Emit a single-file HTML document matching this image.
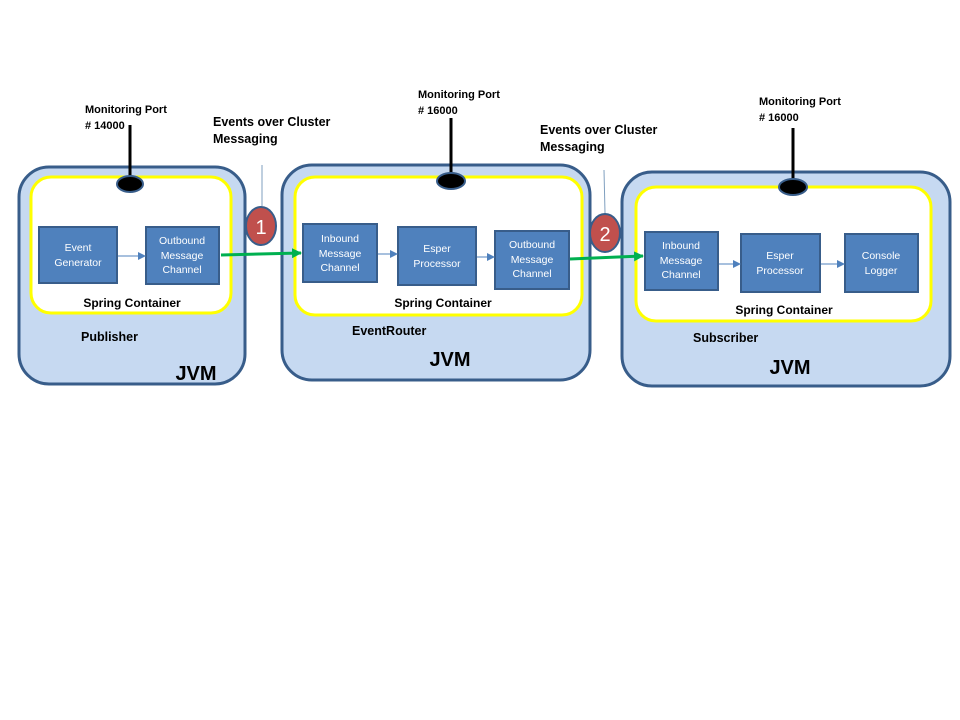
<!DOCTYPE html>
<html><head><meta charset="utf-8"><style>
html,body{margin:0;padding:0;background:#fff;}
svg{display:block;}
text{font-family:"Liberation Sans",sans-serif;}
.b{font-weight:bold;fill:#000;}
.w{fill:#fff;font-size:10.5px;text-anchor:middle;}
</style></head><body>
<svg width="960" height="720" viewBox="0 0 960 720" xmlns="http://www.w3.org/2000/svg">
<defs>
<marker id="ab" markerWidth="8" markerHeight="8" refX="7" refY="4" orient="auto" markerUnits="userSpaceOnUse"><path d="M0,0 L8,4 L0,8 z" fill="#4f81bd"/></marker>
<marker id="ag" markerWidth="10" markerHeight="10" refX="9" refY="5" orient="auto" markerUnits="userSpaceOnUse"><path d="M0,0 L10,5 L0,10 z" fill="#00b050"/></marker>
</defs>
<rect width="960" height="720" fill="#fff"/>
<!-- JVM boxes -->
<rect x="19" y="167" width="226" height="217" rx="30" fill="#c6d9f1" stroke="#385d8a" stroke-width="3"/>
<rect x="282" y="165" width="308" height="215" rx="30" fill="#c6d9f1" stroke="#385d8a" stroke-width="3"/>
<rect x="622" y="172" width="328" height="214" rx="30" fill="#c6d9f1" stroke="#385d8a" stroke-width="3"/>
<!-- spring containers -->
<rect x="31" y="177" width="200" height="136" rx="20" fill="#fff" stroke="#ffff00" stroke-width="3"/>
<rect x="295" y="177" width="287" height="138" rx="20" fill="#fff" stroke="#ffff00" stroke-width="3"/>
<rect x="636" y="187" width="295" height="134" rx="20" fill="#fff" stroke="#ffff00" stroke-width="3"/>
<!-- ports -->
<line x1="130" y1="125" x2="130" y2="178" stroke="#000" stroke-width="3"/>
<ellipse cx="130" cy="184" rx="13" ry="8" fill="#000" stroke="#385d8a" stroke-width="2"/>
<line x1="451" y1="118" x2="451" y2="175" stroke="#000" stroke-width="3"/>
<ellipse cx="451" cy="181" rx="14" ry="8" fill="#000" stroke="#385d8a" stroke-width="2"/>
<line x1="793" y1="128" x2="793" y2="180" stroke="#000" stroke-width="3"/>
<ellipse cx="793" cy="187" rx="14" ry="8" fill="#000" stroke="#385d8a" stroke-width="2"/>
<text class="b" x="85" y="113" font-size="11">Monitoring  Port</text>
<text class="b" x="85" y="129" font-size="11"># 14000</text>
<text class="b" x="418" y="98" font-size="11">Monitoring  Port</text>
<text class="b" x="418" y="114" font-size="11"># 16000</text>
<text class="b" x="759" y="105" font-size="11">Monitoring  Port</text>
<text class="b" x="759" y="121" font-size="11"># 16000</text>
<!-- callouts -->
<text class="b" x="213" y="126" font-size="12.5">Events over Cluster</text>
<text class="b" x="213" y="143" font-size="12.5">Messaging</text>
<text class="b" x="540" y="134" font-size="12.5">Events over Cluster</text>
<text class="b" x="540" y="151" font-size="12.5">Messaging</text>
<line x1="262" y1="165" x2="262" y2="206" stroke="#7f9fbf" stroke-width="1"/>
<line x1="604" y1="170" x2="605" y2="213" stroke="#7f9fbf" stroke-width="1"/>
<!-- blue boxes -->
<g fill="#4f81bd" stroke="#385d8a" stroke-width="2">
<rect x="39" y="227" width="78" height="56"/>
<rect x="146" y="227" width="73" height="57"/>
<rect x="303" y="224" width="74" height="58"/>
<rect x="398" y="227" width="78" height="58"/>
<rect x="495" y="231" width="74" height="58"/>
<rect x="645" y="232" width="73" height="58"/>
<rect x="741" y="234" width="79" height="58"/>
<rect x="845" y="234" width="73" height="58"/>
</g>
<text class="w"><tspan x="78" y="251">Event</tspan><tspan x="78" y="266">Generator</tspan></text>
<text class="w"><tspan x="182" y="244">Outbound</tspan><tspan x="182" y="259">Message</tspan><tspan x="182" y="273">Channel</tspan></text>
<text class="w"><tspan x="340" y="242">Inbound</tspan><tspan x="340" y="257">Message</tspan><tspan x="340" y="271">Channel</tspan></text>
<text class="w"><tspan x="437" y="252">Esper</tspan><tspan x="437" y="267">Processor</tspan></text>
<text class="w"><tspan x="532" y="248">Outbound</tspan><tspan x="532" y="263">Message</tspan><tspan x="532" y="277">Channel</tspan></text>
<text class="w"><tspan x="681" y="249">Inbound</tspan><tspan x="681" y="264">Message</tspan><tspan x="681" y="278">Channel</tspan></text>
<text class="w"><tspan x="780" y="259">Esper</tspan><tspan x="780" y="274">Processor</tspan></text>
<text class="w"><tspan x="881" y="259">Console</tspan><tspan x="881" y="274">Logger</tspan></text>
<!-- blue arrows -->
<g stroke="#4f81bd" stroke-width="1" marker-end="url(#ab)">
<line x1="118" y1="256" x2="145" y2="256"/>
<line x1="378" y1="254" x2="397" y2="254"/>
<line x1="477" y1="257" x2="494" y2="257"/>
<line x1="719" y1="264" x2="740" y2="264"/>
<line x1="821" y1="264" x2="844" y2="264"/>
</g>
<!-- green arrows -->
<line x1="221" y1="255" x2="301" y2="253" stroke="#00b050" stroke-width="3" marker-end="url(#ag)"/>
<line x1="570" y1="259" x2="643" y2="256" stroke="#00b050" stroke-width="3" marker-end="url(#ag)"/>
<!-- badges -->
<ellipse cx="261" cy="226" rx="15" ry="19" fill="#c0504d" stroke="#385d8a" stroke-width="2"/>
<text x="261" y="234" fill="#fff" font-size="20" text-anchor="middle">1</text>
<ellipse cx="605" cy="233" rx="15" ry="19" fill="#c0504d" stroke="#385d8a" stroke-width="2"/>
<text x="605" y="241" fill="#fff" font-size="20" text-anchor="middle">2</text>
<!-- labels -->
<text class="b" x="132" y="307" font-size="12" text-anchor="middle">Spring Container</text>
<text class="b" x="443" y="307" font-size="12" text-anchor="middle">Spring Container</text>
<text class="b" x="784" y="314" font-size="12" text-anchor="middle">Spring Container</text>
<text class="b" x="81" y="341" font-size="12.5">Publisher</text>
<text class="b" x="352" y="335" font-size="12.5">EventRouter</text>
<text class="b" x="693" y="342" font-size="12.5">Subscriber</text>
<text class="b" x="196" y="380" font-size="20" text-anchor="middle">JVM</text>
<text class="b" x="450" y="366" font-size="20" text-anchor="middle">JVM</text>
<text class="b" x="790" y="374" font-size="20" text-anchor="middle">JVM</text>
</svg>
</body></html>
